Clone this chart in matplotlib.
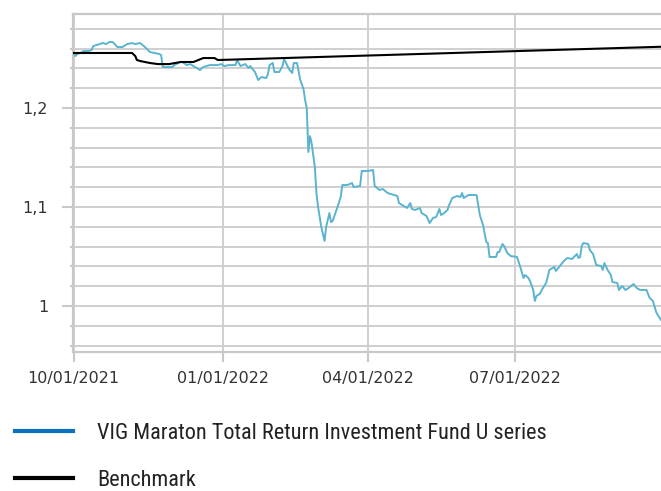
import matplotlib
matplotlib.use("Agg")
import matplotlib.pyplot as plt
import matplotlib.dates as mdates
from matplotlib.lines import Line2D
from matplotlib.ticker import MultipleLocator, FuncFormatter
from matplotlib import font_manager
import pandas as pd

# values (days counted from 2021-10-01)
start_date = "2021-10-01"
fund_days = [0, 1, 2, 4, 6, 9, 11, 12, 14, 16, 18, 20, 22, 24, 27, 30, 33, 36, 38, 41,
             44, 47, 50, 53, 54, 55, 58, 61, 62, 66, 67, 70, 72, 74, 76, 78, 80, 84, 89, 91,
             93, 96, 100, 101, 103, 106, 108, 109, 112, 114, 116, 119, 120, 121, 123, 124, 127, 129, 130, 133,
             135, 136, 138, 140, 142, 143, 144, 145, 146, 147, 149, 150, 151, 152, 153, 155, 156, 158, 159, 160,
             163, 165, 166, 169, 172, 173, 177, 178, 182, 185, 186, 189, 191, 194, 198, 200, 201, 203, 206, 208,
             209, 211, 214, 215, 218, 220, 222, 224, 226, 227, 229, 231, 232, 234, 237, 239, 240, 241, 244, 249,
             251, 253, 255, 256, 257, 261, 262, 263, 265, 266, 268, 270, 274, 276, 278, 279, 281, 282, 284, 285,
             286, 288, 290, 292, 294, 297, 298, 300, 303, 305, 308, 311, 312, 313, 314, 315, 318, 319, 321, 323,
             326, 327, 328, 330, 332, 333, 336, 337, 339, 341, 343, 346, 348, 350, 354, 356, 358, 360, 361, 363]
fund_values = [1.2556, 1.2525, 1.2545, 1.2556, 1.2576, 1.2576, 1.2586, 1.2626, 1.2636, 1.2646,
               1.2657, 1.2646, 1.2667, 1.2667, 1.2616, 1.2616, 1.2646, 1.2657, 1.2646, 1.2657,
               1.2616, 1.2566, 1.2556, 1.2545, 1.2535, 1.2414, 1.2414, 1.2414, 1.2434, 1.2465,
               1.2465, 1.2434, 1.2444, 1.2424, 1.2404, 1.2384, 1.2414, 1.2434, 1.2434, 1.2444,
               1.2424, 1.2434, 1.2434, 1.2485, 1.2424, 1.2444, 1.2404, 1.2424, 1.2364, 1.2283,
               1.2313, 1.2303, 1.2343, 1.2434, 1.2455, 1.2364, 1.2364, 1.2424, 1.2495, 1.2394,
               1.2354, 1.2455, 1.2455, 1.2283, 1.2192, 1.2081, 1.2000, 1.1556, 1.1717, 1.1646,
               1.1404, 1.1141, 1.1000, 1.0899, 1.0798, 1.0657, 1.0798, 1.0939, 1.0848, 1.0859,
               1.1000, 1.1101, 1.1222, 1.1222, 1.1242, 1.1202, 1.1212, 1.1364, 1.1364, 1.1374,
               1.1212, 1.1172, 1.1182, 1.1141, 1.1121, 1.1111, 1.1040, 1.1020, 1.0990, 1.1040,
               1.0980, 1.0970, 1.0990, 1.0939, 1.0909, 1.0838, 1.0889, 1.0899, 1.0980, 1.0919,
               1.0939, 1.0970, 1.1020, 1.1091, 1.1111, 1.1101, 1.1141, 1.1091, 1.1121, 1.1121,
               1.0919, 1.0818, 1.0646, 1.0636, 1.0495, 1.0495, 1.0545, 1.0545, 1.0626, 1.0606,
               1.0535, 1.0505, 1.0495, 1.0394, 1.0283, 1.0313, 1.0283, 1.0253, 1.0162, 1.0051,
               1.0101, 1.0121, 1.0182, 1.0232, 1.0364, 1.0394, 1.0354, 1.0394, 1.0455, 1.0485,
               1.0475, 1.0525, 1.0485, 1.0495, 1.0606, 1.0636, 1.0626, 1.0566, 1.0525, 1.0414,
               1.0404, 1.0364, 1.0434, 1.0364, 1.0313, 1.0242, 1.0232, 1.0162, 1.0202, 1.0162,
               1.0182, 1.0222, 1.0182, 1.0162, 1.0162, 1.0081, 1.0051, 0.9939, 0.9909, 0.9859]

bench_days = [0, 36, 38, 39, 41, 47, 52, 59, 66, 74, 77, 80, 87, 89, 363]
bench_values = [1.2556, 1.2556, 1.2525, 1.2485, 1.2475, 1.2455, 1.2444, 1.2444, 1.2465, 1.2465,
                1.2485, 1.2505, 1.2505, 1.2485, 1.2619]

tick_dates = ["2021-10-01", "2022-01-01", "2022-04-01", "2022-07-01"]
fund_label = "VIG Maraton Total Return Investment Fund U series"
bench_label = "Benchmark"

t0 = pd.Timestamp(start_date)
fund_dates = t0 + pd.to_timedelta(fund_days, unit="D")
bench_dates = t0 + pd.to_timedelta(bench_days, unit="D")

# narrow font for the legend if there is one
names = {f.name for f in font_manager.fontManager.ttflist}
legend_font = "DejaVu Sans"
for cand in ["Liberation Sans Narrow", "Roboto Condensed", "DejaVu Sans Condensed"]:
    if cand in names:
        legend_font = cand
        break

grid_col = "#cfcfcf"

fig = plt.figure(figsize=(6.61, 4.91), dpi=100)
ax = fig.add_axes([73 / 661, 1 - 352 / 491, 1 - 73 / 661, (352 - 14) / 491])

ax.plot(fund_dates, fund_values, color="#5ab4cf", lw=1.4, zorder=3)
ax.plot(bench_dates, bench_values, color="black", lw=1.5, zorder=4)

ax.set_ylim(0.9535, 1.295)
ax.set_xlim(t0 - pd.Timedelta(days=0.5), t0 + pd.Timedelta(days=363))

ax.yaxis.set_major_locator(MultipleLocator(0.1))
ax.yaxis.set_minor_locator(MultipleLocator(0.02))
ax.yaxis.set_major_formatter(FuncFormatter(lambda v, p: f"{v:g}".replace(".", ",")))
ax.set_xticks(pd.to_datetime(tick_dates))
ax.xaxis.set_major_formatter(mdates.DateFormatter("%m/%d/%Y"))

ax.grid(True, which="both", axis="y", color=grid_col, lw=1.4, zorder=0)
ax.grid(True, which="major", axis="x", color=grid_col, lw=1.4, zorder=0)
ax.set_axisbelow(True)

for side in ["left", "bottom", "top"]:
    ax.spines[side].set_color("#c8c8c8")
    ax.spines[side].set_linewidth(1.6)
ax.spines["right"].set_visible(False)

ax.tick_params(axis="y", which="major", length=8, width=1.5, color="#c8c8c8", pad=10,
               labelsize=11.5, labelcolor="#333333")
ax.tick_params(axis="y", which="minor", length=2.5, width=1.5, color="#c8c8c8")
ax.tick_params(axis="x", which="major", length=7, width=1.5, color="#c8c8c8", pad=7,
               labelsize=11.5, labelcolor="#333333")

handles = [Line2D([], [], color="#0a72bd", lw=3),
           Line2D([], [], color="black", lw=3)]
fig.legend(handles, [fund_label, bench_label], loc="upper left",
           bbox_to_anchor=(15 / 661, 1 - 423 / 491), frameon=False,
           prop={"family": legend_font, "size": 16}, labelcolor="#222222",
           handlelength=2.6, handletextpad=1.1, labelspacing=1.15,
           borderpad=0, borderaxespad=0)

fig.savefig("out.png", dpi=100)
